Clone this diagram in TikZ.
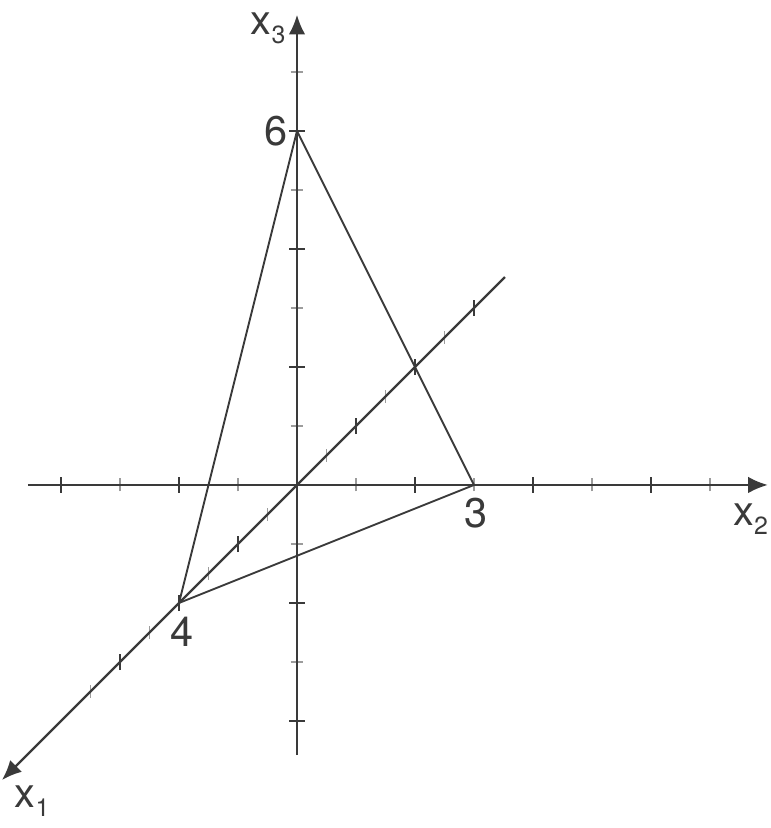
\documentclass[tikz,border=0pt]{standalone}
\usepackage{fontspec}
\setmainfont{TeX Gyre Heros}
\usetikzlibrary{arrows.meta}
\definecolor{ink}{HTML}{3A3A3A}
\definecolor{tickgray}{HTML}{9C9C9C}
\newcommand{\axname}[1]{x\raisebox{-4.6pt}{\fontsize{12}{12}\selectfont #1}}
\begin{document}
\begin{tikzpicture}[
    axisline/.style={ink,line width=1.1pt,-{Latex[length=9.5pt,width=8pt]}},
    edge/.style={ink,line width=0.9pt},
    bigtick/.style={ink,line width=0.9pt},
    smalltick/.style={tickgray,line width=0.9pt},
    lbl/.style={font=\fontsize{20}{20}\selectfont,text=ink,inner sep=0pt}]
  \useasboundingbox (-5.034,-5.814) rectangle (8.017,8.22);
  % ends of the axes
  \coordinate (O) at (0,0);
  \coordinate (x2start) at (-4.56,0);
  \coordinate (x2end) at (7.98,0);
  \coordinate (x3start) at (0,-4.58);
  \coordinate (x3end) at (0,7.97);
  \coordinate (x1start) at (3.525,3.525);
  \coordinate (x1end) at (-5,-5);
  % ticks
  \foreach \i in {-4,-2,2,4,6} {
    \draw[bigtick] (\i,-0.13) -- (\i,0.13);
    \draw[bigtick] (-0.13,\i) -- (0.13,\i);
  }
  \foreach \i in {-3,-1,1,3,5,7} {
    \draw[smalltick] (\i,-0.11) -- (\i,0.11);
    \draw[smalltick] (-0.11,\i) -- (0.11,\i);
  }
  \foreach \i in {-6,-4,-2,2,4,6}
    \draw[bigtick] (-0.5*\i,-0.5*\i-0.14) -- (-0.5*\i,-0.5*\i+0.14);
  \foreach \i in {-5,-3,-1,1,3,5,7}
    \draw[smalltick] (-0.5*\i,-0.5*\i-0.11) -- (-0.5*\i,-0.5*\i+0.11);
  % axes
  \draw[axisline] (x2start) -- (x2end);
  \draw[axisline] (x3start) -- (x3end);
  \draw[axisline] (x1start) -- (x1end);
  \node[lbl] (n2) at (7.69,-0.58) {\axname{2}};
  \node[lbl] (n3) at (-0.49,7.74) {\axname{3}};
  \node[lbl] (n1) at (-4.49,-5.36) {\axname{1}};
  % the triangle
  \coordinate (A) at (-2,-2);
  \coordinate (B) at (3,0);
  \coordinate (C) at (0,6);
  \draw[edge,line join=miter] (A) -- (B) -- (C) -- cycle;
  \node[lbl] (la) at ([xshift=0.05cm,yshift=-0.49cm]A) {4};
  \node[lbl] (lb) at ([xshift=0.03cm,yshift=-0.48cm]B) {3};
  \node[lbl,anchor=east] (lc) at ([xshift=-0.15cm]C) {6};
\end{tikzpicture}
\end{document}
